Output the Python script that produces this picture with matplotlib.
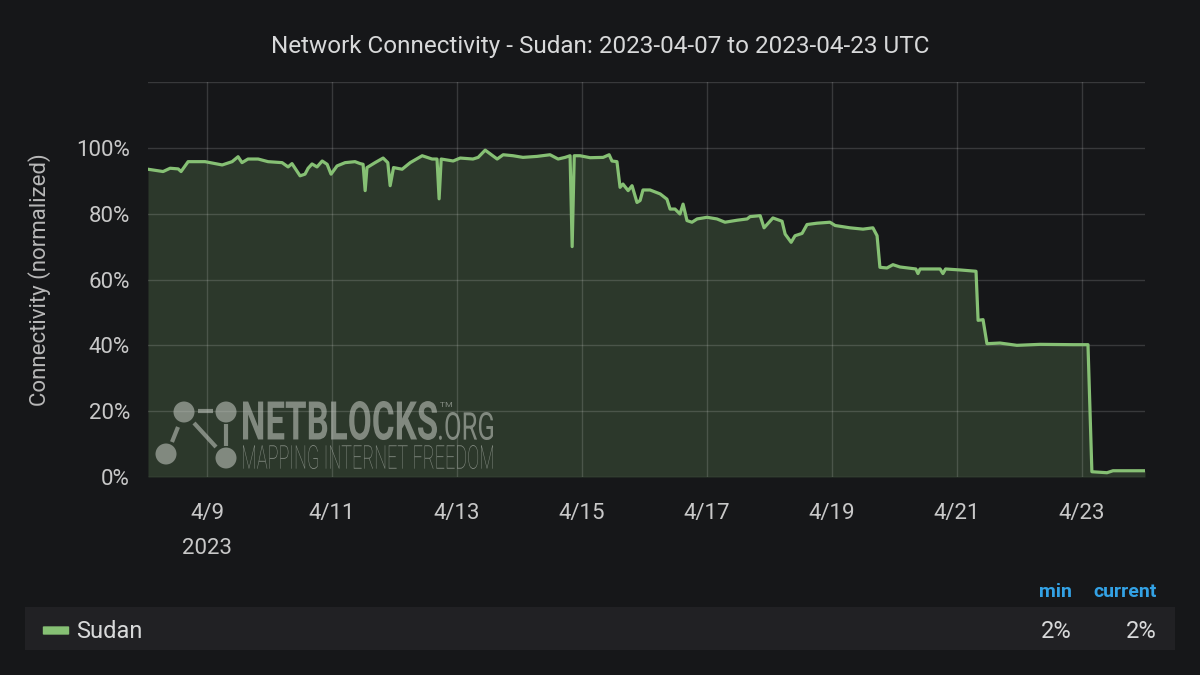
import matplotlib
matplotlib.use("Agg")
import matplotlib.pyplot as plt
import matplotlib.dates as mdates
import pandas as pd
from matplotlib.textpath import TextPath
from matplotlib.font_manager import FontProperties
from matplotlib.patches import PathPatch, Circle, Rectangle, FancyBboxPatch
from matplotlib.lines import Line2D
from matplotlib.transforms import Affine2D, IdentityTransform

# hours after 2023-04-08 00:00 UTC
hours = [1.3, 7.1, 9.8, 12.9, 14.0, 16.7, 23.2, 29.8, 33.6, 35.9, 37.4, 39.7,
         43.6, 47.4, 52.8, 55.1, 56.6, 59.7, 61.6, 62.8, 64.3, 66.2, 68.2, 70.1,
         71.6, 73.9, 77.0, 80.8, 82.8, 83.9, 84.7, 85.4, 88.5, 91.6, 93.4, 94.3,
         95.6, 98.9, 102.0, 106.6, 110.4, 112.3, 113.1, 113.9, 118.5, 121.2,
         126.1, 128.1, 130.8, 135.4, 137.7, 141.5, 145.3, 150.7, 155.7, 158.8,
         161.5, 163.4, 164.2, 165.0, 167.2, 171.1, 176.1, 178.4, 179.5, 181.4,
         182.6, 183.7, 185.7, 187.2, 189.1, 190.3, 191.4, 194.1, 198.0, 200.6,
         201.8, 203.7, 205.6, 206.8, 208.3, 210.2, 212.2, 216.0, 219.8, 222.9,
         227.5, 231.4, 232.5, 236.4, 237.9, 241.3, 244.8, 246.0, 248.3, 249.8,
         252.5, 254.4, 258.2, 263.2, 265.2, 270.9, 275.9, 279.7, 281.3, 282.4,
         285.1, 287.4, 290.1, 296.2, 297.0, 297.8, 305.5, 306.6, 307.6, 313.2,
         319.3, 320.1, 322.0, 323.5, 328.5, 335.0, 343.9, 356.5, 362.3, 363.8,
         369.6, 371.9, 384.2]
connectivity = [93.5, 92.8, 93.8, 93.6, 92.8, 95.8, 95.8, 94.8, 95.8, 97.3, 95.5, 96.6,
                96.6, 95.8, 95.5, 94.2, 95.2, 91.5, 92.0, 93.8, 95.1, 94.2, 96.0, 95.0,
                92.0, 94.5, 95.5, 95.8, 95.2, 95.0, 87.0, 94.0, 95.5, 96.9, 95.5, 88.5,
                94.0, 93.5, 95.5, 97.6, 96.6, 96.6, 84.5, 96.6, 96.0, 96.9,
                96.6, 97.1, 99.3, 96.6, 97.9, 97.6, 97.1, 97.4, 97.9, 96.6,
                97.1, 97.6, 70.0, 97.6, 97.6, 97.0, 97.1, 97.9, 96.0, 95.8,
                88.0, 89.0, 87.0, 88.5, 83.4, 84.0, 87.2, 87.2, 86.0, 84.4,
                81.4, 81.4, 79.9, 82.9, 77.9, 77.4, 78.4, 78.9, 78.4, 77.4,
                78.0, 78.4, 79.1, 79.4, 75.7, 78.7, 77.7, 73.8, 71.3, 73.3,
                74.0, 76.7, 77.1, 77.4, 76.4, 75.7, 75.3, 75.7, 73.3, 63.7,
                63.5, 64.5, 63.8, 63.2, 61.8, 63.2, 63.2, 61.8, 63.2, 62.9,
                62.5, 47.6, 47.8, 40.5, 40.7, 40.0, 40.3, 40.2, 40.2, 1.6,
                1.3, 1.9, 1.9]

tick_days = ["2023-04-09", "2023-04-11", "2023-04-13", "2023-04-15",
             "2023-04-17", "2023-04-19", "2023-04-21", "2023-04-23"]
tick_labels = ["4/9", "4/11", "4/13", "4/15", "4/17", "4/19", "4/21", "4/23"]
y_ticks = [0, 20, 40, 60, 80, 100, 120]
y_labels = ["0%", "20%", "40%", "60%", "80%", "100%", ""]

series_name = "Sudan"
stat_names = ["min", "current"]
stat_values = ["2%", "2%"]

W, H = 1200, 675
BG = "#161719"
GREEN = "#86c074"

plt.rcParams["font.family"] = ["Roboto", "DejaVu Sans"]

times = pd.Timestamp("2023-04-08") + pd.to_timedelta(hours, unit="h")

fig = plt.figure(figsize=(W / 100, H / 100), dpi=100, facecolor=BG)
ax = fig.add_axes([148 / W, 1 - 477 / H, (1145 - 148) / W, (477 - 82) / H])
ax.set_facecolor(BG)

ax.fill_between(times, connectivity, 0, color=GREEN, alpha=0.2, lw=0, zorder=1)
ax.plot(times, connectivity, color=GREEN, lw=2.3, zorder=2)

ax.set_xlim(times[0], times[-1])
ax.set_ylim(0, 120)
ax.set_yticks(y_ticks)
ax.set_yticklabels(y_labels)
ax.set_xticks(pd.to_datetime(tick_days))
ax.set_xticklabels(tick_labels)
ax.tick_params(length=0, labelsize=16, colors="#c8c8c8")
ax.tick_params(axis="x", pad=19)
ax.tick_params(axis="y", pad=13)
ax.grid(True, color="white", alpha=0.15, lw=1)
for s in ax.spines.values():
    s.set_visible(False)

ax.text(mdates.date2num(pd.Timestamp(tick_days[0])), -0.18, "2023",
        transform=ax.get_xaxis_transform(), ha="center", va="center",
        fontsize=16, color="#c8c8c8")

fig.text(600 / W, 1 - 46 / H, "Network Connectivity - Sudan: 2023-04-07 to 2023-04-23 UTC",
         ha="center", va="center", fontsize=17.5, color="#d8d9da")
fig.text(40 / W, 1 - 280 / H, "Connectivity (normalized)", rotation=90,
         ha="center", va="center", fontsize=16, color="#b8b8b8")

# watermark
wm_color, wm_alpha = "#c8ccc6", 0.55


def stamp(text, x0, y0, x1, y1, weight):
    tp = TextPath((0, 0), text, size=100, prop=FontProperties(family="Roboto", weight=weight))
    bb = tp.get_extents()
    tr = (Affine2D().translate(-bb.x0, -bb.y0)
          .scale((x1 - x0) / bb.width, (y1 - y0) / bb.height)
          .translate(x0, H - y1))
    fig.add_artist(PathPatch(tp, transform=tr, fc=wm_color, ec="none", alpha=wm_alpha))


stamp("NETBLOCKS", 243, 401, 437, 440, "bold")
stamp(".ORG", 439, 412, 493, 440, "normal")
stamp("TM", 440, 402, 452, 407, "normal")
stamp("MAPPING INTERNET FREEDOM", 243, 445, 493, 469, "light")

for cx, cy in [(184, 412), (226, 412), (166, 454), (226, 458)]:
    fig.add_artist(Circle((cx, H - cy), 10.5, transform=IdentityTransform(),
                          fc=wm_color, ec="none", alpha=wm_alpha))
for (xa, ya), (xb, yb) in [((198, 411), (213, 411)), ((178, 427), (172, 442)),
                           ((194, 423), (216, 447)), ((226, 424), (226, 446))]:
    fig.add_artist(Line2D([xa, xb], [H - ya, H - yb], transform=IdentityTransform(),
                          color=wm_color, lw=3, alpha=wm_alpha, solid_capstyle="butt"))

# legend table
fig.add_artist(Rectangle((25 / W, 1 - 650 / H), 1150 / W, 43 / H, transform=fig.transFigure,
                         fc="#212124", ec="none"))
fig.add_artist(FancyBboxPatch((44 / W, 1 - 634 / H), 24 / W, 7 / H,
                              boxstyle="round,pad=0.001", transform=fig.transFigure,
                              fc=GREEN, ec="none"))
fig.text(76 / W, 1 - 631 / H, series_name, ha="left", va="center", fontsize=17, color="#d8d9da")
for name, val, xr in zip(stat_names, stat_values, [1072, 1157]):
    fig.text(xr / W, 1 - 592 / H, name, ha="right", va="center", fontsize=14,
             fontweight="bold", color="#33a2e5")
    fig.text(xr / W, 1 - 631 / H, val, ha="right", va="center", fontsize=17, color="#d8d9da")

fig.savefig("out.png", dpi=100, facecolor=BG)
